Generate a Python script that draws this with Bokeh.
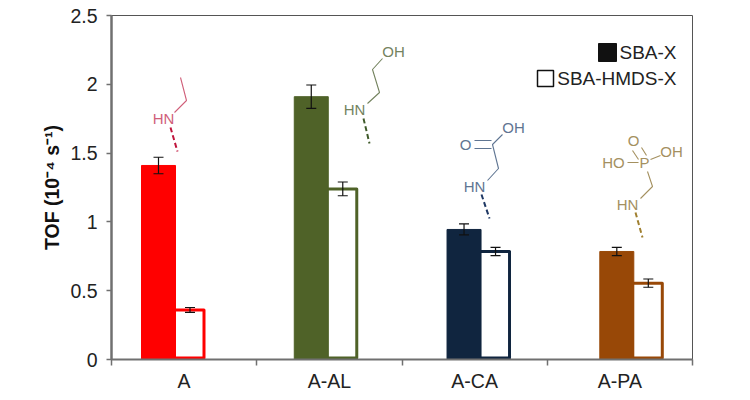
from bokeh.plotting import figure
from bokeh.embed import file_html
from bokeh.resources import INLINE
from bokeh.core.properties import value
from bokeh.models import (Range1d, FixedTicker, ColumnDataSource, Whisker, TeeHead)

categories = ["A", "A-AL", "A-CA", "A-PA"]
sba_x = [1.41, 1.91, 0.945, 0.785]
sba_x_err = [0.06, 0.085, 0.04, 0.03]
sba_hmds_x = [0.36, 1.24, 0.785, 0.555]
sba_hmds_x_err = [0.018, 0.05, 0.03, 0.03]
colors = ["#ff0000", "#4f6228", "#10253f", "#984807"]
y_ticks = [0, 0.5, 1, 1.5, 2, 2.5]
y_tick_labels = ["0", "0.5", "1", "1.5", "2", "2.5"]
legend_labels = ["SBA-X", "SBA-HMDS-X"]
y_label = "TOF (10⁻⁴ s⁻¹)"

FONT = "Liberation Sans"
L, R, T, B = 111, 692, 15, 359      # plot frame in picture pixels
W, H = R - L, B - T
def X(px): return (px - L) / W * 4
def Y(py): return (B - py) / H * 2.5
def DX(px): return px / W * 4

p = figure(width=734, height=392, frame_width=W, frame_height=H,
           x_range=Range1d(0, 4), y_range=Range1d(0, 2.5),
           output_backend="svg", toolbar_location=None,
           min_border_left=L, min_border_top=T, min_border_right=42, min_border_bottom=33)
p.grid.visible = False
p.background_fill_color = "white"
p.border_fill_color = "white"
p.outline_line_color = "#555555"
p.outline_line_width = 1

# axes
xa = p.xaxis[0]
xa.ticker = FixedTicker(ticks=[i + 0.5 for i in range(4)], minor_ticks=list(range(5)))
xa.major_label_overrides = {i + 0.5: c for i, c in enumerate(categories)}
xa.major_tick_line_color = None
xa.minor_tick_line_color = "#707070"
xa.minor_tick_line_width = 1.5
xa.minor_tick_out = 6
xa.minor_tick_in = 0
xa.axis_line_color = "#707070"
xa.axis_line_width = 2
xa.major_label_text_font = FONT
xa.major_label_text_font_size = "19.5px"
xa.major_label_text_color = "#222222"
xa.major_label_standoff = 4

ya = p.yaxis[0]
ya.ticker = FixedTicker(ticks=y_ticks)
ya.major_label_overrides = {t: s for t, s in zip(y_ticks, y_tick_labels)}
ya.minor_tick_line_color = None
ya.major_tick_in = 0
ya.major_tick_out = 5
ya.major_tick_line_color = "#707070"
ya.major_tick_line_width = 1.5
ya.axis_line_color = "#707070"
ya.axis_line_width = 2.5
ya.major_label_text_font = FONT
ya.major_label_text_font_size = "19.5px"
ya.major_label_text_color = "#222222"
ya.major_label_standoff = 9
ya.axis_label = y_label
ya.axis_label_text_font = FONT
ya.axis_label_text_font_size = "19.5px"
ya.axis_label_text_font_style = "bold"
ya.axis_label_text_color = "#111111"
ya.axis_label_standoff = 4

# bars
BAR_LEFT = X(141)
BAR_STEP = (X(599.3) - X(141)) / 3
FILLED_W = DX(34)
OPEN_W = DX(30)
xs_filled = [BAR_LEFT + BAR_STEP * i + FILLED_W / 2 for i in range(4)]
xs_open = [BAR_LEFT + BAR_STEP * i + FILLED_W - DX(1.5) + OPEN_W / 2 for i in range(4)]
xs_open_err = [BAR_LEFT + BAR_STEP * i + FILLED_W + DX(14.5) for i in range(4)]

p.vbar(x=xs_open, top=sba_hmds_x, bottom=0.011, width=OPEN_W, fill_color="white",
       line_color=colors, line_width=3, line_join="round")
p.vbar(x=xs_filled, top=sba_x, bottom=0, width=FILLED_W, fill_color=colors, line_color=colors, line_width=1)

# error bars
for xs, vals, errs in ((xs_filled, sba_x, sba_x_err), (xs_open_err, sba_hmds_x, sba_hmds_x_err)):
    src = ColumnDataSource(dict(x=xs, lo=[v - e for v, e in zip(vals, errs)],
                                hi=[v + e for v, e in zip(vals, errs)]))
    p.add_layout(Whisker(source=src, base="x", lower="lo", upper="hi", dimension="height", level="overlay",
                         line_color="#111111", line_width=1.2,
                         upper_head=TeeHead(size=10, line_color="#111111", line_width=1.2),
                         lower_head=TeeHead(size=10, line_color="#111111", line_width=1.2)))

# legend
p.quad(left=[X(598)], right=[X(616)], top=[Y(43)], bottom=[Y(61)], fill_color="#111111", line_color="#111111")
p.quad(left=[X(537)], right=[X(553)], top=[Y(70)], bottom=[Y(86)], fill_color="white", line_color="#111111", line_width=1.5)
p.text(x=[X(676)] * 2, y=[Y(52), Y(78)], text=legend_labels, text_align="right", text_baseline="middle",
       text_font=value(FONT), text_font_size="19px", text_color="#222222")

# molecule sketches: (polylines, double-dash line, labels)
molecules = [
    dict(col="#d0607a", dash="#c0143c",
         lines=[[(180, 77), (186, 100), (174, 112)]],
         dashed=[(170, 127), (177, 151)],
         labels=[(163, 118, "HN")]),
    dict(col="#74835f", dash="#3f5a2a",
         lines=[[(382, 58), (372, 69), (379, 92), (367, 103)]],
         dashed=[(363, 118), (369, 143)],
         labels=[(393, 51, "OH"), (354, 109, "HN")]),
    dict(col="#5f7592", dash="#1f3864",
         lines=[[(502, 134), (492, 144), (498, 168), (487, 180)],
                [(474, 140), (491, 140)], [(474, 148), (491, 148)]],
         dashed=[(481, 194), (489, 218)],
         labels=[(513, 127, "OH"), (465, 144, "O"), (474, 186, "HN")]),
    dict(col="#a4905f", dash="#a08030",
         lines=[[(632, 150), (638, 159)], [(641, 147), (646, 155)], [(627, 162), (638, 162)],
                [(650, 159), (660, 155)], [(647, 171), (652, 186), (640, 198)]],
         dashed=[(635, 212), (642, 237)],
         labels=[(633, 140, "O"), (671, 151, "OH"), (613, 162, "HO"), (644, 162, "P"), (627, 204, "HN")]),
]
for m in molecules:
    for ln in m["lines"]:
        p.line([X(a) for a, _ in ln], [Y(b) for _, b in ln], line_color=m["col"], line_width=1.1)
    p.line([X(a) for a, _ in m["dashed"]], [Y(b) for _, b in m["dashed"]], line_color=m["dash"],
           line_width=2, line_dash="5 3")
    p.text(x=[X(a) for a, _, _ in m["labels"]], y=[Y(b) for _, b, _ in m["labels"]],
           text=[t for _, _, t in m["labels"]], text_align="center", text_baseline="middle",
           text_font=value(FONT), text_font_size="15px", text_color=m["col"])

open("out.html", "w").write(file_html(p, INLINE))
